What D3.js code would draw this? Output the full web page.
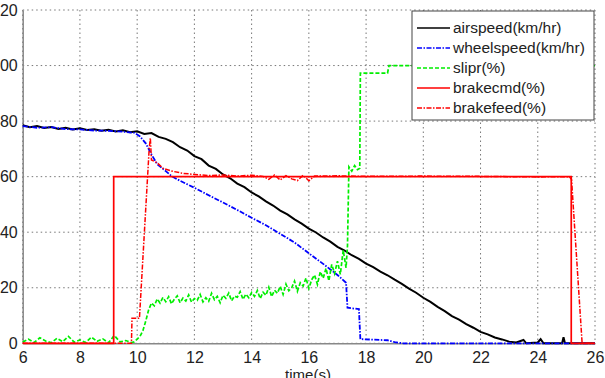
<!DOCTYPE html>
<html>
<head>
<meta charset="utf-8">
<script src="https://cdn.jsdelivr.net/npm/d3@7"></script>
<style>
  body { margin: 0; background: #fff; }
  svg { display: block; font-family: "Liberation Sans", Arial, sans-serif; }
</style>
</head>
<body>
<script>
// data: [time(s), value]
const airspeed = [
  [6, 78.5], [6.25, 77.8], [6.5, 78.2], [6.75, 77.5], [7, 77.9], [7.25, 77.2], [7.5, 77.6], [7.75, 77.0],
  [8, 77.4], [8.25, 76.8], [8.5, 77.1], [8.75, 76.5], [9, 76.9], [9.25, 76.3], [9.5, 76.7], [9.75, 76.0],
  [10, 76.3], [10.25, 75.4], [10.5, 75.7], [10.75, 74.3], [11, 73.6], [11.25, 72.4], [11.5, 70.6], [11.75, 69.4],
  [12, 67.4], [12.25, 66.3], [12.5, 64.0], [12.75, 62.8], [13, 60.8], [13.25, 59.4], [13.5, 57.5], [13.75, 56.2],
  [14, 54.3], [14.25, 52.9], [14.5, 51.1], [14.75, 49.6], [15, 47.8], [15.25, 46.4], [15.5, 44.6], [15.75, 43.1],
  [16, 41.3], [16.25, 39.9], [16.5, 38.1], [16.75, 36.6], [17, 34.7], [17.25, 33.4], [17.5, 31.7], [17.75, 30.4],
  [18, 28.7], [18.25, 27.4], [18.5, 25.8], [18.75, 24.5], [19, 22.9], [19.25, 21.4], [19.5, 19.7], [19.75, 18.2],
  [20, 16.4], [20.25, 14.9], [20.5, 13.1], [20.75, 11.6], [21, 9.8], [21.25, 8.5], [21.5, 6.9], [21.75, 5.6],
  [22, 4.1], [22.25, 3.2], [22.5, 2.1], [22.75, 1.4], [23, 0.6], [23.25, 0.3], [23.5, 1.2], [23.6, 0],
  [24, 0.3], [24.1, 1.5], [24.2, 0], [24.85, 0], [24.9, 2.2], [24.95, 0], [26, 0]
];
const wheelspeed = [
  [6, 78.2], [6.5, 77.6], [7, 77.8], [7.5, 77.1], [8, 77.0], [8.5, 76.6], [9, 76.5], [9.5, 76.2],
  [9.9, 75.8], [10.1, 74.5], [10.3, 72.0], [10.5, 68.0], [10.7, 64.5], [11, 62.0], [11.2, 60.2], [11.5, 58.5],
  [12, 56.0], [12.5, 53.3], [13, 50.7], [13.5, 48.0], [14, 45.2], [14.5, 42.5], [15, 39.4], [15.5, 36.3],
  [16, 32.4], [16.5, 28.6], [17, 24.6], [17.3, 21.8], [17.35, 12.8], [17.75, 12.3], [17.8, 1.5], [18.75, 1.1],
  [19, 0.4], [19.3, 0], [26, 0]
];
const slipr = [
  [6, 0.5], [6.2, 1.5], [6.4, 0.3], [6.6, 2.0], [6.8, 0.8], [7, 0.2], [7.2, 1.8], [7.4, 0.6], [7.6, 2.5],
  [7.8, 0.4], [8, 1.2], [8.2, 0.3], [8.4, 2.2], [8.6, 0.7], [8.8, 1.6], [9, 0.2], [9.2, 2.8], [9.4, 0.5],
  [9.6, 1.0], [9.8, 0.3], [9.9, 0.5], [10, 1.5], [10.1, 2.5], [10.2, 4.5], [10.3, 8], [10.4, 12], [10.5, 14.5],
  [10.6, 13.5], [10.7, 16], [10.8, 14.5], [10.9, 16.5], [11, 15], [11.1, 16.8], [11.2, 14.2], [11.3, 15.9],
  [11.4, 17.1], [11.5, 14.6], [11.6, 16.3], [11.7, 15.2], [11.8, 17.4], [11.9, 14.8], [12, 16.1], [12.1, 15.5],
  [12.2, 17.6], [12.3, 14.9], [12.4, 16.4], [12.5, 15.1], [12.6, 18.0], [12.7, 15.7], [12.8, 16.9], [12.9, 14.6],
  [13, 17.3], [13.1, 16.2], [13.2, 18.1], [13.3, 15.3], [13.4, 17.0], [13.5, 16.6], [13.6, 18.6], [13.7, 15.8],
  [13.8, 17.7], [13.9, 16.4], [14, 18.3], [14.1, 16.9], [14.2, 19.0], [14.3, 16.1], [14.4, 18.4], [14.5, 17.3],
  [14.6, 20.2], [14.7, 16.8], [14.8, 19.1], [14.9, 18.0], [15, 20.5], [15.1, 17.6], [15.2, 21.3], [15.3, 18.9],
  [15.4, 20.0], [15.5, 22.4], [15.6, 18.7], [15.7, 21.8], [15.8, 20.6], [15.9, 23.5], [16, 19.8], [16.1, 22.9],
  [16.2, 24.6], [16.3, 21.2], [16.4, 25.8], [16.5, 23.4], [16.6, 27.0], [16.7, 22.5], [16.8, 28.4], [16.9, 25.1],
  [17, 29.6], [17.1, 24.8], [17.2, 33.5], [17.3, 27.2], [17.35, 35.0], [17.4, 63.5], [17.5, 62.0], [17.6, 64.0],
  [17.7, 62.5], [17.78, 63.0], [17.8, 97.3], [18.75, 97.3], [18.8, 100], [26, 100]
];
const brakecmd = [[6, 0], [9.18, 0], [9.18, 60], [25.17, 60], [25.17, 0], [26, 0]];
const brakefeed = [
  [6, 0], [9.8, 0], [9.82, 9], [10.08, 9], [10.42, 70], [10.46, 74], [10.5, 66], [10.7, 65], [10.9, 63],
  [11.2, 62], [11.6, 61.2], [12, 60.8], [12.5, 60.4], [13, 60.6], [13.5, 60.2], [14, 60.5], [14.4, 60.1],
  [14.6, 59.0], [14.8, 60.6], [15, 58.8], [15.2, 60.4], [15.4, 59.2], [15.6, 58.6], [15.8, 60.5], [16, 58.5],
  [16.2, 60.2], [17, 60.3], [18, 60.1], [20, 60.2], [22, 60.1], [24, 59.9], [25.1, 60], [25.18, 59],
  [25.55, 0], [26, 0]
];
const seriesNames = ["airspeed(km/hr)", "wheelspeed(km/hr)", "slipr(%)", "brakecmd(%)", "brakefeed(%)"];
const xTicks = [6, 8, 10, 12, 14, 16, 18, 20, 22, 24, 26];
const yTicks = [0, 20, 40, 60, 80, 100, 120];

const width = 605, height = 378;
const plotLeft = 22.7, plotRight = 595, plotTop = 10, plotBottom = 343.3;

const svg = d3.select("body").append("svg").attr("width", width).attr("height", height);

const x = d3.scaleLinear().domain([6, 26]).range([plotLeft, plotRight]);
const y = d3.scaleLinear().domain([0, 120]).range([plotBottom, plotTop]);

// grid
svg.append("g").selectAll("line").data(xTicks).join("line")
  .attr("x1", d => x(d)).attr("x2", d => x(d)).attr("y1", plotTop).attr("y2", plotBottom)
  .attr("stroke", "#777").attr("stroke-width", 1).attr("stroke-dasharray", "1.5,3");
svg.append("g").selectAll("line").data(yTicks).join("line")
  .attr("x1", plotLeft).attr("x2", plotRight).attr("y1", d => y(d)).attr("y2", d => y(d))
  .attr("stroke", "#777").attr("stroke-width", 1).attr("stroke-dasharray", "1.5,3");

// axes
let xAxis = d3.axisBottom(x).tickValues(xTicks).tickSize(0).tickPadding(8);
let yAxis = d3.axisLeft(y).tickValues(yTicks).tickSize(0).tickPadding(5);
svg.append("g").attr("transform", `translate(0, ${plotBottom})`).call(xAxis)
  .call(g => g.select(".domain").attr("stroke", "#888").attr("stroke-width", 1.5))
  .call(g => g.selectAll("text").attr("font-size", 16).attr("fill", "#222")
    .attr("font-family", "Liberation Sans, Arial, sans-serif"));
svg.append("g").attr("transform", `translate(${plotLeft}, 0)`).call(yAxis)
  .call(g => g.select(".domain").attr("stroke", "#888").attr("stroke-width", 1.5))
  .call(g => g.selectAll("text").attr("font-size", 16).attr("fill", "#222")
    .attr("font-family", "Liberation Sans, Arial, sans-serif"));

svg.append("text").attr("x", 308).attr("y", 380).attr("text-anchor", "middle")
  .attr("font-size", 15).attr("fill", "#222").text("time(s)");

// lines
const line = d3.line().x(d => x(d[0])).y(d => y(d[1]));
const styles = [
  { data: airspeed, color: "#000000", dash: null, w: 2 },
  { data: wheelspeed, color: "#0000ff", dash: "5,1.5,1.5,1.5", w: 1.8 },
  { data: slipr, color: "#00ee00", dash: "4,2", w: 1.7 },
  { data: brakecmd, color: "#ff0000", dash: null, w: 1.7 },
  { data: brakefeed, color: "#ff0000", dash: "5,1.5,1.5,1.5", w: 1.5 }
];
styles.forEach(s => {
  svg.append("path").datum(s.data).attr("d", line)
    .attr("fill", "none").attr("stroke", s.color).attr("stroke-width", s.w)
    .attr("stroke-dasharray", s.dash);
});

// legend
const lg = svg.append("g");
lg.append("rect").attr("x", 412).attr("y", 11).attr("width", 182).attr("height", 109)
  .attr("fill", "#fff").attr("stroke", "#444").attr("stroke-width", 1);
seriesNames.forEach((name, i) => {
  const yy = 28 + i * 20;
  lg.append("line").attr("x1", 417).attr("x2", 450).attr("y1", yy).attr("y2", yy)
    .attr("stroke", styles[i].color).attr("stroke-width", 1.6)
    .attr("stroke-dasharray", styles[i].dash);
  lg.append("text").attr("x", 453).attr("y", yy + 5).attr("font-size", 15.5).attr("fill", "#222")
    .text(name);
});
</script>
</body>
</html>
